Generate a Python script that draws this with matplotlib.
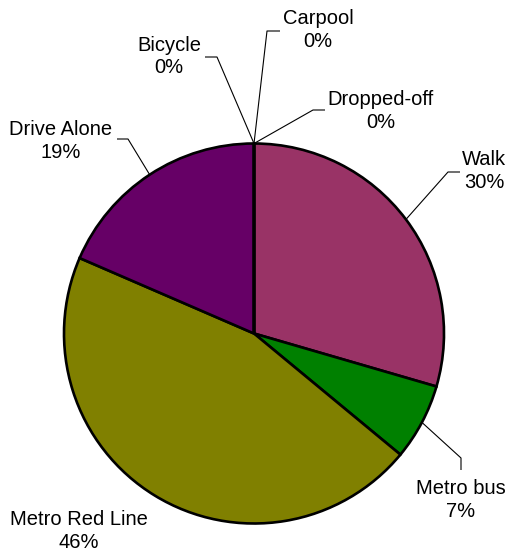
import matplotlib
matplotlib.use("Agg")
import matplotlib.pyplot as plt
import numpy as np

plt.rcParams['font.family'] = ['Liberation Sans', 'DejaVu Sans']

# Commute mode counts (200 respondents)
modes = ['Walk', 'Metro bus', 'Metro Red Line', 'Drive Alone',
         'Bicycle', 'Carpool', 'Dropped-off']
counts = [59, 13, 91, 37, 0, 0, 0]
colors = ['#993366', '#008000', '#808000', '#660066',
          '#ffffff', '#ffffff', '#ffffff']

W, H = 510, 557
fig = plt.figure(figsize=(W / 100, H / 100), dpi=100)
ax = fig.add_axes([0, 0, 1, 1])

cx, cy, r = 254, H - 333.5, 190

wedges, _ = ax.pie(counts, colors=colors, startangle=90, counterclock=False,
                   center=(cx, cy), radius=r, frame=True,
                   wedgeprops=dict(edgecolor='black', linewidth=1.9))
ax.set_xlim(0, W)
ax.set_ylim(0, H)
ax.set_aspect('equal')
ax.axis('off')

total = sum(counts)
pcts = [int(100 * c / total + 0.5) for c in counts]

# label block centre and leader elbow, in pixels from top-left
label_pos = {
    'Walk': (484, 171),
    'Metro bus': (461, 500),
    'Metro Red Line': (79, 531),
    'Drive Alone': (61, 141),
    'Bicycle': (169, 56.5),
    'Carpool': (318, 30),
    'Dropped-off': (381, 111),
}
elbows = {
    'Walk': [(448, 172), (460, 172)],
    'Metro bus': [(461, 458), (461, 470)],
    'Drive Alone': [(128, 139), (117, 139)],
    'Bicycle': [(217, 57), (205, 57)],
    'Carpool': [(267, 31), (280, 31)],
    'Dropped-off': [(313, 110), (325, 110)],
}

for w, name, p in zip(wedges, modes, pcts):
    mid = np.deg2rad((w.theta1 + w.theta2) / 2)
    ex, ey = cx + r * np.cos(mid), cy + r * np.sin(mid)
    if name in elbows:
        xs = [ex] + [q[0] for q in elbows[name]]
        ys = [ey] + [H - q[1] for q in elbows[name]]
        ax.plot(xs, ys, color='black', linewidth=0.8, solid_capstyle='butt')
    tx, ty = label_pos[name]
    ax.text(tx, H - ty, f'{name}\n{p}%', ha='center', va='center',
            multialignment='center', fontsize=14.5, linespacing=1.25,
            color='black')

fig.savefig('out.png', dpi=100)
